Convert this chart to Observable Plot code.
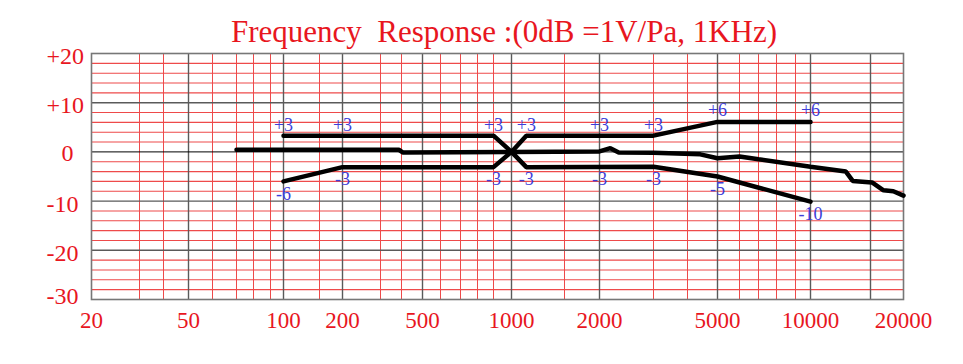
<!DOCTYPE html>
<html><head><meta charset="utf-8">
<script src="https://cdn.jsdelivr.net/npm/d3@7"></script>
<script src="https://cdn.jsdelivr.net/npm/@observablehq/plot@0.6"></script>
<style>
body{margin:0;background:#fff;position:relative;width:963px;height:364px;overflow:hidden;}
#title{position:absolute;left:0;top:16px;width:963px;padding-left:45px;box-sizing:border-box;text-align:center;line-height:1;font-family:"Liberation Serif","Times New Roman",serif;font-size:31px;color:#e8161e;white-space:pre;z-index:2;}
#chart{position:absolute;left:0;top:0;width:963px;height:364px;}
</style></head><body>
<div id="title">Frequency  Response :(0dB =1V/Pa, 1KHz)</div>
<div id="chart"></div>
<script>
// ---- data ----
const xTickFreqs = [20, 50, 100, 200, 500, 1000, 2000, 5000, 10000, 20000];
const xTickLabels = ["20", "50", "100", "200", "500", "1000", "2000", "5000", "10000", "20000"];
const majorFreqs = [50, 100, 200, 500, 1000, 2000, 5000, 10000, 15000];
const minorFreqs = [30, 40, 60, 70, 80, 90, 150, 300, 400, 600, 700, 800, 900, 1500, 3000, 4000, 6000, 7000, 8000, 9000];
const yTickDb = [-30, -20, -10, 0, 10, 20];
const majorDb = [-20, -10, 10];
const minorDb = [-28, -26, -24, -22, -18, -16, -14, -12, -8, -6, -4, -2, 2, 4, 6, 8, 12, 14, 16, 18];

const responseFreq = [70, 385, 405, 1000, 2000, 2170, 2310, 3000, 4400, 5000, 6000, 7000, 10000, 12700, 13300, 15200, 16800, 18300, 20000];
const responseDb   = [0.45, 0.45, -0.1, 0, 0.1, 0.75, -0.1, -0.15, -0.5, -1.3, -0.95, -1.5, -3.0, -4.0, -5.9, -6.2, -7.8, -8.0, -8.9];

const upperFreq = [100, 900, 1000, 1120, 3000, 5000, 10000];
const upperDb   = [3.3, 3.3, 0, 3.3, 3.3, 6.1, 6.1];
const lowerFreq = [100, 200, 900, 1000, 1120, 3000, 5000, 10000];
const lowerDb   = [-6, -3.1, -3.1, 0, -3.1, -3, -5, -10.1];

const upperLabelFreq = [100, 200, 900, 1120, 2000, 3000, 5000, 10000];
const upperLabelText = ["+3", "+3", "+3", "+3", "+3", "+3", "+6", "+6"];
const lowerLabelFreq = [100, 200, 900, 1120, 2000, 3000, 5000, 10000];
const lowerLabelText = ["-6", "-3", "-3", "-3", "-3", "-3", "-5", "-10"];

// ---- tables ----
const zip = (xs, ys) => xs.map((x, i) => ({f: x, db: ys[i]}));
const response = zip(responseFreq, responseDb);
const upper = zip(upperFreq, upperDb);
const lower = zip(lowerFreq, lowerDb);
const upLabels = upperLabelFreq.map((f, i) => ({f, t: upperLabelText[i], db: parseFloat(upperLabelText[i])}));
const loLabels = lowerLabelFreq.map((f, i) => ({f, t: lowerLabelText[i], db: parseFloat(lowerLabelText[i])}));
const xLabels = xTickFreqs.map((f, i) => ({f, t: xTickLabels[i]}));

const RED = "#e8161e";
const GRID_RED = "#ee4a4a";
const MAJOR = "#5a5a5a";
const BLUE = "#3d3dd8";
const serif = "'Liberation Serif','Times New Roman',serif";
const fmtDb = d => d > 0 ? "+" + d : String(d);

// the chart paper's own (irregular) logarithmic frequency ruling
const paperFreqs = [20,30,40,50,60,70,80,90,100,150,200,300,400,500,600,700,800,900,1000,1500,2000,3000,4000,5000,6000,7000,8000,9000,10000,15000,20000];

const chart = Plot.plot({
  width: 963,
  height: 364,
  marginTop: 53,
  marginBottom: 65,
  marginLeft: 91,
  marginRight: 60,
  style: {fontFamily: serif, color: RED, background: "transparent"},
  x: {type: "log", domain: paperFreqs,
      range: [91,139,163,188,212,236,253,270,283,319,342,380,401,422,440,460,477,493,511,564,599,653,687,717,739,758,776,795,810,870,903],
      axis: null},
  y: {domain: [-30, 20], axis: null},
  marks: [
    Plot.ruleX(minorFreqs, {stroke: GRID_RED, strokeWidth: 1}),
    Plot.ruleY(minorDb, {stroke: GRID_RED, strokeWidth: 1.1}),
    Plot.ruleX(majorFreqs, {stroke: MAJOR, strokeWidth: 1.4}),
    Plot.ruleY(majorDb, {stroke: MAJOR, strokeWidth: 1.4}),
    Plot.ruleY([0], {stroke: "#000", strokeWidth: 1}),
    Plot.frame({stroke: "#777", strokeWidth: 1.6}),
    Plot.line(upper, {x: "f", y: "db", stroke: "#000", strokeWidth: 4.5, strokeLinejoin: "miter"}),
    Plot.line(lower, {x: "f", y: "db", stroke: "#000", strokeWidth: 4.5, strokeLinejoin: "miter"}),
    Plot.line(response, {x: "f", y: "db", stroke: "#000", strokeWidth: 4.5, strokeLinejoin: "miter"}),
    Plot.text(upLabels, {x: "f", y: "db", text: "t", dy: -12, fill: BLUE, fontSize: 18, fontFamily: serif}),
    Plot.text(loLabels, {x: "f", y: "db", text: "t", dy: 13, fill: BLUE, fontSize: 18, fontFamily: serif}),
    Plot.text(xLabels, {x: "f", text: "t", frameAnchor: "bottom", dy: 28, fill: RED, fontSize: 23, fontFamily: serif}),
    Plot.axisY({ticks: [-20, -10, 10, 20], tickFormat: fmtDb, tickSize: 0, tickPadding: 45, textAnchor: "start", dy: 3, fontSize: 24, fill: RED, label: null}),
    Plot.axisY({ticks: [0], tickFormat: fmtDb, tickSize: 0, tickPadding: 30, textAnchor: "start", dy: 1.5, fontSize: 24, fill: RED, label: null}),
    Plot.axisY({ticks: [-30], tickFormat: fmtDb, tickSize: 0, tickPadding: 45, textAnchor: "start", dy: -3, fontSize: 24, fill: RED, label: null})
  ]
});
document.getElementById("chart").appendChild(chart);
</script>
</body></html>
